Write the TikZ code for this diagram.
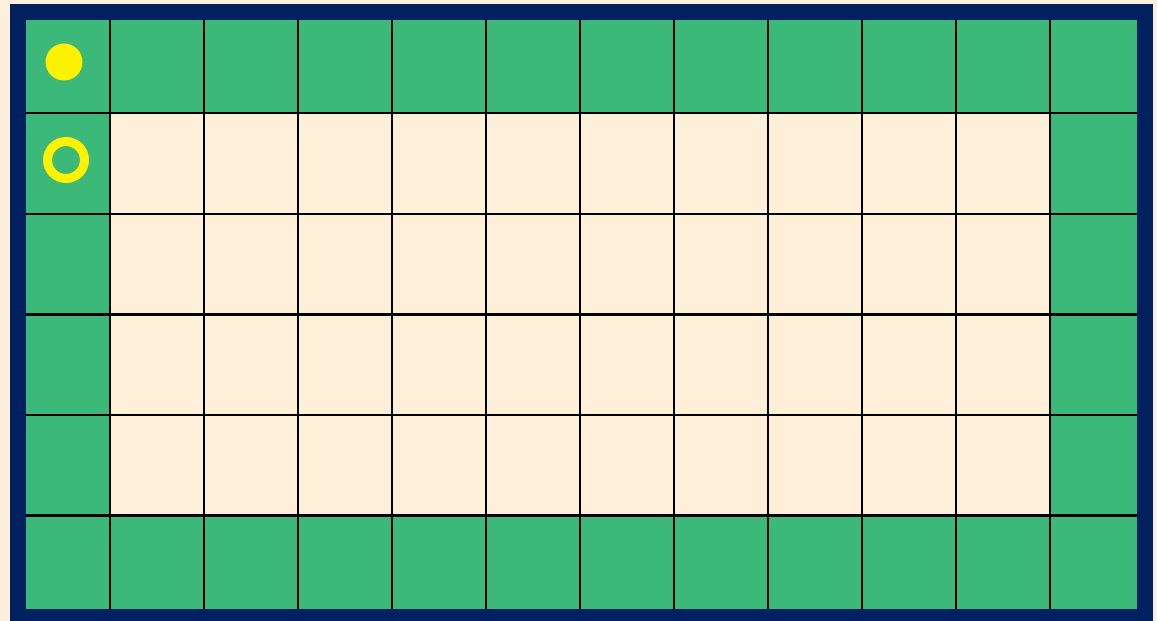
\documentclass[tikz,border=0pt]{standalone}
\definecolor{bgbeige}{HTML}{FCF0DC}
\definecolor{cream}{HTML}{FEF0D8}
\definecolor{felt}{HTML}{3CB878}
\definecolor{navy}{HTML}{00205F}
\tikzset{
  gridline/.style={black, line width=2.4pt},
  frame/.style={navy, line width=16pt},
  token/.style={fill=yellow},
  ring/.style={draw=yellow, line width=9pt}
}
\begin{document}
\begin{tikzpicture}[x=1pt,y=-1pt]
\fill[bgbeige] (0,0) rectangle (1157,621);
\useasboundingbox (0,0) rectangle (1157,621);
\clip (0,0) rectangle (1157,621);
\fill[felt] (16,12.5) rectangle (1144,616);
\fill[cream] (110,113) rectangle (1050,515);
\foreach \i in {1,...,11}
  \draw[gridline] ({16+94*\i},12.5) -- ({16+94*\i},616);
\foreach \j in {1,...,5}
  \draw[gridline] (16,{12.5+100.6*\j}) -- (1144,{12.5+100.6*\j});
\draw[frame] (18,12) rectangle (1144.5,617);
\path[token] (64,62) circle [radius=18.5pt];
\path[ring] (66,160) circle [radius=18.5pt];
\end{tikzpicture}
\end{document}
